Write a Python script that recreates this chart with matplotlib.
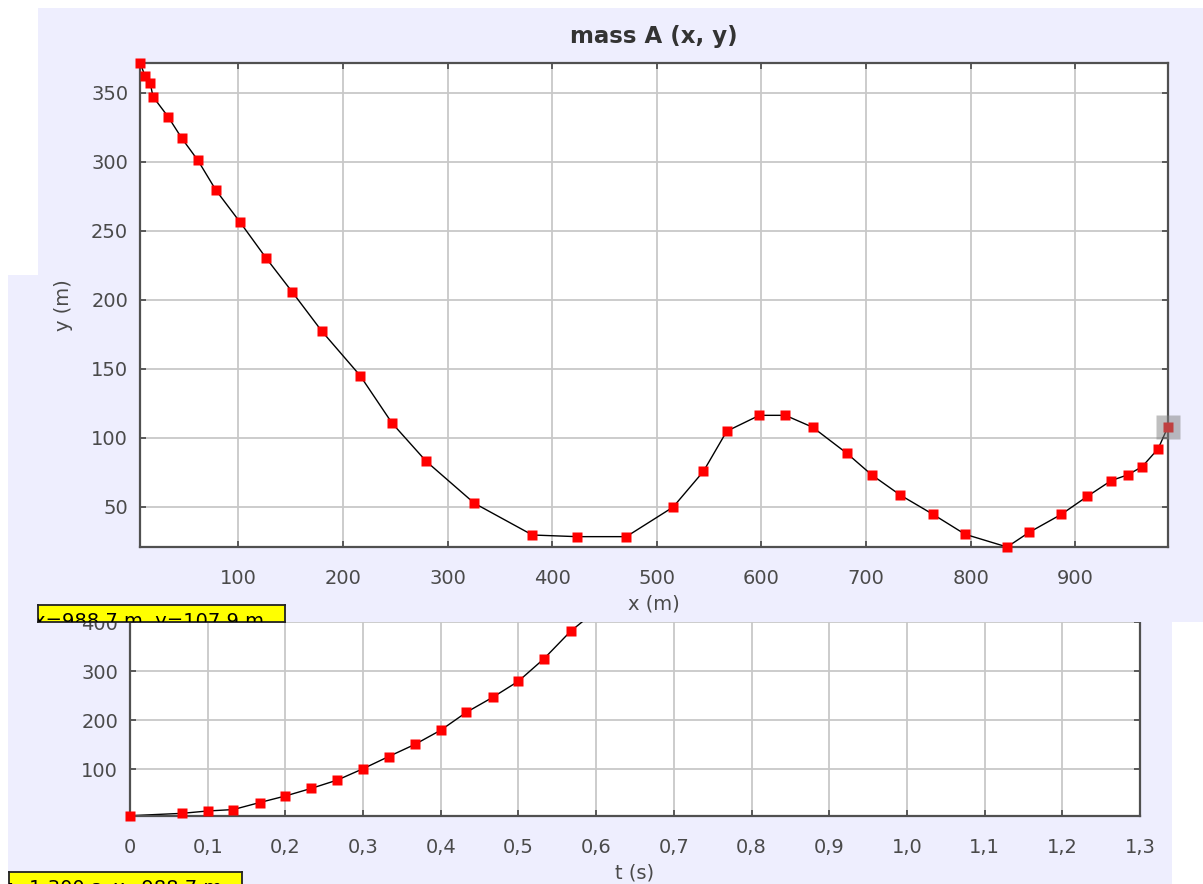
import matplotlib
matplotlib.use('Agg')
import matplotlib.pyplot as plt
from matplotlib.patches import Rectangle
from matplotlib.ticker import FuncFormatter

# datos (mass A)
t_s = [0.0, 0.067, 0.100, 0.133, 0.167, 0.200, 0.233, 0.267, 0.300, 0.333,
       0.367, 0.400, 0.433, 0.467, 0.500, 0.533, 0.567, 0.600, 0.633, 0.667,
       0.700, 0.733, 0.767, 0.800, 0.833, 0.867, 0.900, 0.933, 0.967, 1.000,
       1.033, 1.067, 1.100, 1.133, 1.167, 1.200, 1.233, 1.267, 1.300]
x_m = [6.0, 10.8, 15.6, 18.5, 32.8, 46.1, 61.4, 78.6, 101.6, 126.4,
       151.3, 180.0, 216.4, 247.0, 279.7, 325.6, 381.1, 423.5, 470.9, 515.6,
       544.6, 566.9, 598.1, 622.9, 649.0, 681.7, 705.4, 732.6, 764.2, 794.8,
       834.9, 855.9, 886.6, 911.4, 934.4, 950.6, 964.0, 979.3, 988.7]
y_m = [371.6, 362.0, 357.2, 346.9, 332.5, 316.7, 300.8, 279.2, 256.1, 230.2,
       205.7, 176.9, 144.9, 110.4, 82.7, 52.4, 29.4, 28.2, 28.2, 49.6,
       75.5, 104.6, 116.1, 116.1, 107.5, 88.6, 73.0, 58.4, 44.3, 29.9,
       20.7, 31.3, 44.3, 57.3, 68.8, 73.1, 78.9, 91.9, 107.9]

xy_ticks_x = [100, 200, 300, 400, 500, 600, 700, 800, 900]
xy_ticks_y = [50, 100, 150, 200, 250, 300, 350]
xt_ticks_t = [0.0, 0.1, 0.2, 0.3, 0.4, 0.5, 0.6, 0.7, 0.8, 0.9, 1.0, 1.1, 1.2, 1.3]
xt_ticks_x = [100, 200, 300, 400]   # el resto queda tapado por la otra ventana

readout_top = 'x=988.7 m, y=107.9 m'
readout_bottom = 't=1.300 s, x=988.7 m'

W, H = 1203, 884
LAV = '#eeeefe'
GRID = '#c8c8c8'
SPINE = '#505050'
TXT = '#4a4a4a'

plt.rcParams['font.family'] = 'DejaVu Sans'


def rect(x0, y0, x1, y1):
    # pixeles (origen arriba-izquierda) -> fraccion de figura
    return [x0 / W, 1 - y1 / H, (x1 - x0) / W, (y1 - y0) / H]


def style_axes(ax, xpad=16, ypad=8.5):
    ax.set_facecolor('white')
    ax.grid(True, color=GRID, lw=1.3)
    ax.set_axisbelow(True)
    for s in ax.spines.values():
        s.set_color(SPINE)
        s.set_linewidth(1.6)
    ax.tick_params(axis='both', direction='in', length=4.5, width=1.3,
                   color=SPINE, labelsize=14, labelcolor=TXT,
                   top=True, right=True)
    ax.tick_params(axis='x', pad=xpad)
    ax.tick_params(axis='y', pad=ypad)


fig = plt.figure(figsize=(W / 100, H / 100), dpi=100)

# ventana de abajo (x vs t)
fig.add_artist(Rectangle((8 / W, 0), (1172 - 8) / W, 1 - 275 / H,
                         transform=fig.transFigure, facecolor=LAV,
                         edgecolor='none', zorder=0))
ax2 = fig.add_axes(rect(130, 332.7, 1140, 815.7), zorder=1)
style_axes(ax2)
ax2.plot(t_s, x_m, color='black', lw=1.0, zorder=2)
ax2.plot(t_s, x_m, ls='none', marker='s', ms=7.3, mfc='red', mec='none',
         zorder=3, clip_on=False)
ax2.set_xlim(t_s[0], t_s[-1])
ax2.set_ylim(min(x_m), max(x_m))
ax2.set_xticks(xt_ticks_t)
ax2.set_yticks(xt_ticks_x)
ax2.xaxis.set_major_formatter(FuncFormatter(lambda v, p: f'{v:.1f}'.replace('.', ',') if v > 0.001 else '0'))
ax2.set_xlabel('t (s)', fontsize=14, color=TXT, labelpad=4.5)

# ventana de arriba (y vs x), tapa la parte alta de la otra
fig.add_artist(Rectangle((38 / W, 1 - 622 / H), (W - 38) / W, (622 - 8) / H,
                         transform=fig.transFigure, facecolor=LAV,
                         edgecolor='none', zorder=2))
ax1 = fig.add_axes(rect(140, 62.7, 1168, 547), zorder=3)
style_axes(ax1)
ax1.plot(x_m, y_m, color='black', lw=1.0, zorder=2)
ax1.plot(x_m, y_m, ls='none', marker='s', ms=7.3, mfc='red', mec='none',
         zorder=3, clip_on=False)
# punto seleccionado
ax1.plot(x_m[-1], y_m[-1], ls='none', marker='s', ms=17, mfc='#808080',
         mec='none', alpha=0.5, zorder=4, clip_on=False)
ax1.set_xlim(min(x_m), max(x_m))
ax1.set_ylim(min(y_m), max(y_m))
ax1.set_xticks(xy_ticks_x)
ax1.set_yticks(xy_ticks_y)
ax1.set_title('mass A (x, y)', fontsize=16.5, fontweight='bold',
              color='#333333', pad=14)
ax1.set_xlabel('x (m)', fontsize=14, color=TXT, labelpad=4.5)
ax1.set_ylabel('y (m)', fontsize=14, color=TXT, labelpad=13)

# recuadros amarillos de lectura, cortados
for (x0, y0, x1, y1), txt, z in [((38, 605, 285, 622), readout_top, 4),
                                 ((9, 872, 242, 898), readout_bottom, 4)]:
    bx = fig.add_axes(rect(x0, y0, x1, y1), zorder=z)
    bx.set_facecolor('yellow')
    bx.set_xticks([])
    bx.set_yticks([])
    for s in bx.spines.values():
        s.set_color('#222222')
        s.set_linewidth(1.3)
    bx.set_xlim(x0, x1)
    bx.set_ylim(y1, y0)
    bx.text(x0 - 4, y0 + 22, txt, fontsize=14, color='black',
            va='baseline', ha='left', clip_on=True)

fig.savefig('out.png', dpi=100, facecolor='white')
